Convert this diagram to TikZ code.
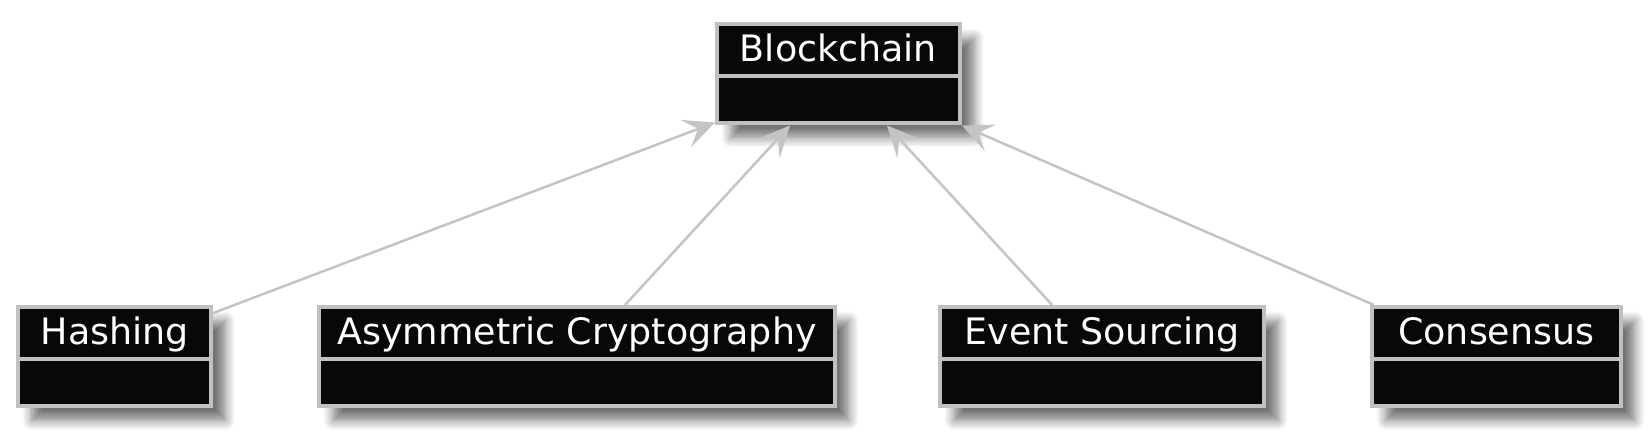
\documentclass[tikz,border=0pt]{standalone}
\usepackage{fontspec}
\setmainfont{DejaVu Sans}
\usetikzlibrary{arrows.meta,calc,shadows.blur}
\definecolor{boxfill}{HTML}{080808}
\definecolor{boxline}{HTML}{C0C0C0}
\definecolor{arrowline}{HTML}{C4C4C4}
\begin{document}
\begin{tikzpicture}[x=0.5pt,y=-0.5pt,
  cls/.style={draw=boxline, line width=2pt, fill=boxfill, rectangle, inner sep=0pt,
    blur shadow={shadow xshift=7pt, shadow yshift=-7pt, shadow blur radius=5pt, shadow blur steps=8, shadow opacity=55}},
  ttl/.style={text=white, font=\fontsize{18.2}{22}\selectfont, anchor=base, inner sep=0pt},
  divider/.style={draw=boxline, line width=2pt},
  dep/.style={draw=arrowline, line width=1.25pt, -{Stealth[length=15.5pt,width=14.5pt,inset=6.5pt]}}]
\useasboundingbox (0,0) rectangle (1650,437);
% classes
\node[cls, minimum width=121.5pt, minimum height=49.5pt] (bc) at (838.5,74) {};
\node[cls, minimum width=96.65pt, minimum height=49.65pt] (hash) at (114.65,356.65) {};
\node[cls, minimum width=257.7pt, minimum height=49.65pt] (asym) at (577,356.65) {};
\node[cls, minimum width=161.85pt, minimum height=49.65pt] (event) at (1102.15,356.65) {};
\node[cls, minimum width=124.35pt, minimum height=49.65pt] (cons) at (1496.35,356.65) {};
% dividers
\draw[divider] (bc.west |- 0,76.2) -- (bc.east |- 0,76.2);
\draw[divider] (hash.west |- 0,358.7) -- (hash.east |- 0,358.7);
\draw[divider] (asym.west |- 0,358.7) -- (asym.east |- 0,358.7);
\draw[divider] (event.west |- 0,358.7) -- (event.east |- 0,358.7);
\draw[divider] (cons.west |- 0,358.7) -- (cons.east |- 0,358.7);
% titles
\node[ttl] (bct) at (838.5,62) {Blockchain};
\node[ttl] (hasht) at (114.65,344.5) {Hashing};
\node[ttl] (asymt) at (577,344.5) {Asymmetric Cryptography};
\node[ttl] (eventt) at (1102.15,344.5) {Event Sourcing};
\node[ttl] (const) at (1496.35,344.5) {Consensus};
% connectors
\draw[dep] ($(hash.north east)+(0,8)$) -- ($(bc.south west)+(0,-3)$);
\draw[dep] ($(asym.north)+(48,0)$) -- ($(bc.south)+(-48.5,0)$);
\draw[dep] ($(event.north)+(-50,0)$) -- ($(bc.south)+(48.5,0)$);
\draw[dep] ($(cons.north west)+(4,0)$) -- (bc.south east);
\end{tikzpicture}
\end{document}
